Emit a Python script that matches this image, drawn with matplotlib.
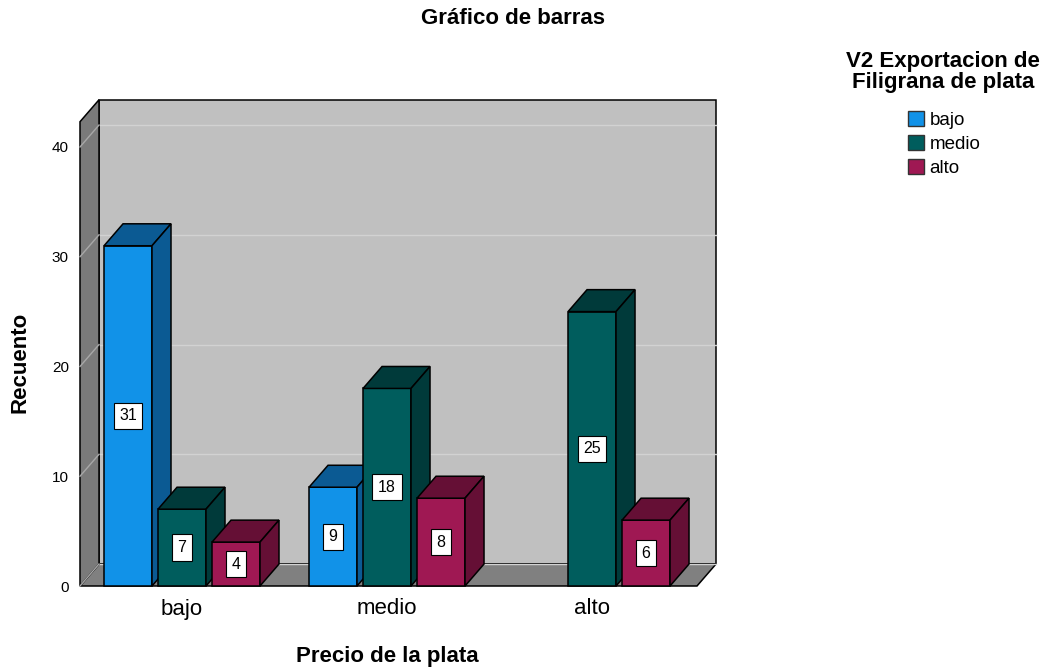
import matplotlib
matplotlib.use('Agg')
import matplotlib.pyplot as plt
from matplotlib.patches import Polygon, Patch

plt.rcParams['font.family'] = ['Liberation Sans', 'DejaVu Sans']

# data
precio = ['bajo', 'medio', 'alto']
series = ['bajo', 'medio', 'alto']
bajo = [31, 9, 0]
medio = [7, 18, 25]
alto = [4, 8, 6]
yticks = [0, 10, 20, 30, 40]

front = ['#1192e8', '#005d5d', '#9f1853']
dark = ['#0b5a93', '#003a3a', '#650f35']

fig = plt.figure(figsize=(10.53, 6.70), dpi=100)
ax = fig.add_axes([80 / 1053, 84 / 670, 636 / 1053, 486 / 670])
x0, x1 = -0.4976, 2.512   # front left / right of the floor
dx, dy = 0.0927, 2.0      # depth offset
ax.set_xlim(x0, x1 + dx)
ax.set_ylim(0, 44.28)
for s in ax.spines.values():
    s.set_visible(False)

ek = dict(edgecolor='black', lw=1.1, joinstyle='miter', clip_on=False)
top = 42.3
# back wall, floor, side wall
ax.add_patch(Polygon([(x0 + dx, dy), (x0 + dx, top + dy), (x1 + dx, top + dy), (x1 + dx, dy)],
                     facecolor='#c0c0c0', **ek))
for v in yticks:
    ax.plot([x0 + dx, x1 + dx], [v + dy, v + dy], color='#d2d2d2', lw=1, clip_on=False)
ax.add_patch(Polygon([(x0, 0), (x0 + dx, dy), (x1 + dx, dy), (x1, 0)], facecolor='#808080', **ek))
ax.add_patch(Polygon([(x0, 0), (x0, top), (x0 + dx, top + dy), (x0 + dx, dy)],
                     facecolor='#7a7a7a', zorder=2, **ek))
for v in yticks:
    ax.plot([x0, x0 + dx], [v, v + dy], color='#a8a8a8', lw=1, clip_on=False, zorder=3)

w = 0.234
step = 0.2634
groups = [bajo, medio, alto]
for i in range(len(precio)):
    for j, vals in enumerate(groups):
        v = vals[i]
        if v == 0:
            continue
        xl = i + (j - 1) * step - w / 2
        xr = xl + w
        z = 4 + i * 3 + j
        ax.add_patch(Polygon([(xl, 0), (xl, v), (xr, v), (xr, 0)], facecolor=front[j], zorder=z, **ek))
        ax.add_patch(Polygon([(xl, v), (xl + dx, v + dy), (xr + dx, v + dy), (xr, v)],
                             facecolor=dark[j], zorder=z, **ek))
        ax.add_patch(Polygon([(xr, 0), (xr + dx, dy), (xr + dx, v + dy), (xr, v)],
                             facecolor=dark[j], zorder=z, **ek))
        ax.text((xl + xr) / 2, v / 2, str(v), ha='center', va='center', fontsize=11.5, zorder=z,
                bbox=dict(boxstyle='square,pad=0.35', facecolor='white', edgecolor='black', lw=0.8))

ax.set_yticks(yticks)
ax.set_yticklabels([str(t) for t in yticks], fontsize=11)
ax.set_xticks(range(len(precio)))
ax.set_xticklabels(precio, fontsize=16)
ax.tick_params(axis='y', length=0, pad=8)
ax.tick_params(axis='x', length=0, pad=9)

ax.set_xlabel('Precio de la plata', fontsize=16, fontweight='bold')
ax.xaxis.set_label_coords((387 - 80) / 636, (586 - 646) / 486)
ax.set_ylabel('Recuento', fontsize=16, fontweight='bold')
ax.yaxis.set_label_coords((31 - 80) / 636, (586 - 362) / 486)

fig.text(513 / 1053, 1 - 19 / 670, 'Gráfico de barras', ha='center', va='center',
         fontsize=16, fontweight='bold')

fig.text(943 / 1053, 1 - 72 / 670, 'V2 Exportacion de\nFiligrana de plata', ha='center',
         va='center', multialignment='center', linespacing=1.05, fontsize=16, fontweight='bold')
handles = [Patch(facecolor=c, edgecolor='#333333', lw=1) for c in front]
leg = fig.legend(handles, series, loc='upper left', bbox_to_anchor=(908 / 1053, 1 - 111 / 670),
                 frameon=False, fontsize=13.5, handlelength=0.85, handleheight=0.85,
                 handletextpad=0.3, labelspacing=0.33, borderpad=0, borderaxespad=0)

fig.savefig('out.png', dpi=100)
